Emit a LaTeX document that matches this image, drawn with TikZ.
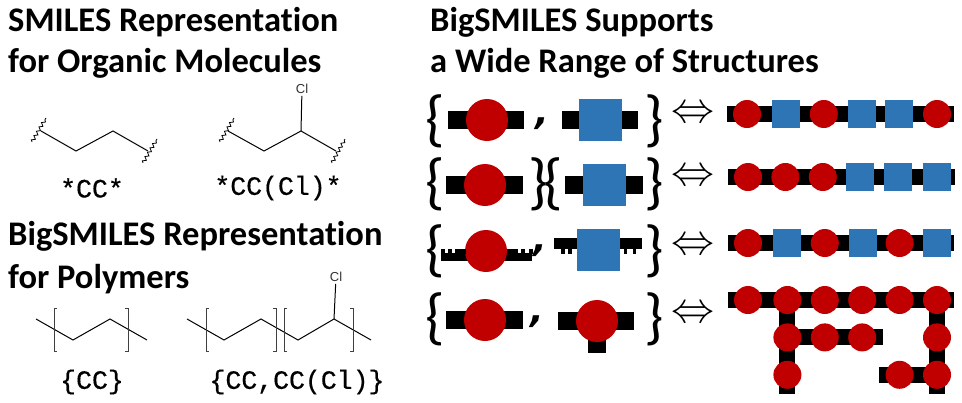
\documentclass[tikz,border=0pt]{standalone}
\usepackage{amsmath}
\usepackage{xcolor}
\usepackage{fontspec}
\setmainfont[RawFeature=-liga]{Carlito}
\newfontfamily\molfont{Liberation Sans}
\newfontfamily\sepfont{DejaVu Sans}
\newfontfamily\codefont[FakeBold=0.5]{Liberation Mono}
\usepackage{tikz}
\usetikzlibrary{arrows.meta,positioning,backgrounds,decorations.pathmorphing}
\definecolor{UnitRed}{RGB}{192,0,0}
\definecolor{UnitBlue}{RGB}{46,117,182}

\begin{document}
\begin{tikzpicture}[
    x=1pt, y=-1pt,
    headline/.style={anchor=base west, inner sep=0pt, font=\fontsize{34.5}{38}\selectfont\bfseries},
    smiles/.style={inner sep=0pt, font=\fontsize{26.5}{30}\selectfont\codefont},
    atomlabel/.style={inner sep=2pt, font=\fontsize{13}{15}\selectfont\molfont, text=black!80},
    bond/.style={line width=1pt, draw=black},
    wavybond/.style={line width=0.8pt, draw=black, decorate, decoration={snake, amplitude=1.6pt, segment length=5pt}},
    bracket/.style={line width=1pt, draw=black!75},
    bigcircle/.style={circle, fill=UnitRed, minimum size=42pt, inner sep=0pt},
    bigsquare/.style={rectangle, fill=UnitBlue, minimum width=43pt, minimum height=42pt, inner sep=0pt},
    beadcircle/.style={circle, fill=UnitRed, minimum size=28pt, inner sep=0pt},
    beadsquare/.style={rectangle, fill=UnitBlue, minimum size=28pt, inner sep=0pt},
    bigbar/.style={line width=18pt, draw=black},
    combbar/.style={line width=8pt, draw=black},
    keybar/.style={line width=11pt, draw=black},
    chainbar/.style={line width=16pt, draw=black},
    brace/.style={inner sep=0pt, font=\fontsize{62}{62}\selectfont},
    sep/.style={inner sep=0pt, font=\fontsize{36}{36}\selectfont\sepfont\itshape\bfseries},
    iff/.style={inner sep=0pt, scale=4.3}
  ]
    \useasboundingbox (0,0) rectangle (962,402);

    \node[headline] (title1) at (8,31) {SMILES Representation};
    \node[headline] (title2) at (8,72) {for Organic Molecules};
    \node[headline] (title3) at (8,245) {BigSMILES Representation};
    \node[headline] (title4) at (8,288) {for Polymers};
    \node[headline] (title5) at (430,31) {BigSMILES Supports};
    \node[headline] (title6) at (430,72) {a Wide Range of Structures};

    \coordinate (a1) at (41,131);
    \coordinate (a2) at (76,151);
    \coordinate (a3) at (113,131);
    \coordinate (a4) at (148,151);
    \coordinate (w1) at (32,142);
    \coordinate (w2) at (46,118);
    \coordinate (w3) at (143,163);
    \coordinate (w4) at (157,139);
    \draw[bond] (a1) -- (a2) -- (a3) -- (a4);
    \draw[wavybond] (w1) -- (w2);
    \draw[wavybond] (w3) -- (w4);
    \node[smiles] (code1) at (92,188) {*CC*};

    \coordinate (b1) at (228,131);
    \coordinate (b2) at (264,151);
    \coordinate (b3) at (301,131);
    \coordinate (b4) at (336,151);
    \coordinate (w5) at (220,142);
    \coordinate (w6) at (234,118);
    \coordinate (w7) at (332,163);
    \coordinate (w8) at (345,139);
    \node[atomlabel] (cl1) at (302,89) {Cl};
    \draw[bond] (b1) -- (b2) -- (b3) -- (b4);
    \draw[bond] (b3) -- (cl1);
    \draw[wavybond] (w5) -- (w6);
    \draw[wavybond] (w7) -- (w8);
    \node[smiles] (code2) at (278,188) {*CC(Cl)*};

    \coordinate (c1) at (36,319);
    \coordinate (c2) at (73,340);
    \coordinate (c3) at (110,319);
    \coordinate (c4) at (147,340);
    \draw[bond] (c1) -- (c2) -- (c3) -- (c4);
    \draw[bracket] (57,308) -- (54,308) -- (54,351) -- (57,351);
    \draw[bracket] (125,308) -- (128,308) -- (128,351) -- (125,351);
    \node[smiles] (code3) at (92,382) {\{CC\}};

    \coordinate (d1) at (187,319);
    \coordinate (d2) at (224,340);
    \coordinate (d3) at (261,319);
    \coordinate (d4) at (298,340);
    \coordinate (d5) at (334,319);
    \coordinate (d6) at (371,340);
    \node[atomlabel] (cl2) at (336,277) {Cl};
    \draw[bond] (d1) -- (d2) -- (d3) -- (d4) -- (d5) -- (d6);
    \draw[bond] (d5) -- (cl2);
    \draw[bracket] (209,308) -- (206,308) -- (206,351) -- (209,351);
    \draw[bracket] (273,308) -- (276,308) -- (276,351) -- (273,351);
    \draw[bracket] (287,308) -- (284,308) -- (284,351) -- (287,351);
    \draw[bracket] (350,308) -- (353,308) -- (353,351) -- (350,351);
    \node[smiles] (code4) at (297,382) {\{CC,CC(Cl)\}};

    \node[brace] (lb1) at (435,121) {\{};
    \node[bigcircle] (m1a) at (487,120) {};
    \coordinate[left=18pt of m1a] (m1al);
    \coordinate[right=16pt of m1a] (m1ar);
    \node[sep] (cm1) at (542,124) {,};
    \node[bigsquare] (m1b) at (600.5,120) {};
    \coordinate[left=17pt of m1b] (m1bl);
    \coordinate[right=16pt of m1b] (m1br);
    \node[brace] (rb1) at (654,121) {\}};
    \node[iff] (eq1) at (693,115) {$\Leftrightarrow$};

    \node[brace] (lb2) at (435,184) {\{};
    \node[bigcircle] (m2a) at (485,185) {};
    \coordinate[left=18pt of m2a] (m2al);
    \coordinate[right=17pt of m2a] (m2ar);
    \node[brace] (mb2) at (545.5,184) {\}\kern-5pt\{};
    \node[bigsquare] (m2b) at (604,185) {};
    \coordinate[left=17pt of m2b] (m2bl);
    \coordinate[right=17pt of m2b] (m2br);
    \node[brace] (rb2) at (654,184) {\}};
    \node[iff] (eq2) at (693,178) {$\Leftrightarrow$};

    \node[brace] (lb3) at (435,251) {\{};
    \node[bigcircle] (m3a) at (486,251) {};
    \coordinate[left=24pt of m3a] (m3al);
    \coordinate[right=25pt of m3a] (m3ar);
    \node[sep] (cm3) at (540,251) {,};
    \node[bigsquare] (m3b) at (598,250) {};
    \coordinate[left=22pt of m3b] (m3bl);
    \coordinate[right=22pt of m3b] (m3br);
    \node[brace] (rb3) at (654,251) {\}};
    \node[iff] (eq3) at (693,247) {$\Leftrightarrow$};

    \node[brace] (lb4) at (435,319) {\{};
    \node[bigcircle] (m4a) at (485,320) {};
    \coordinate[left=18pt of m4a] (m4al);
    \coordinate[right=17pt of m4a] (m4ar);
    \node[sep] (cm4) at (537,322) {,};
    \node[bigcircle] (m4b) at (597,321) {};
    \coordinate[left=18pt of m4b] (m4bl);
    \coordinate[right=16pt of m4b] (m4br);
    \coordinate[below=11pt of m4b] (m4bs);
    \node[brace] (rb4) at (654,319) {\}};
    \node[iff] (eq4) at (693,315) {$\Leftrightarrow$};

    \node[beadcircle] (r1a) at (747,114) {};
    \node[beadsquare, right=11pt of r1a] (r1b) {};
    \node[beadcircle, right=9pt of r1b] (r1c) {};
    \node[beadsquare, right=10pt of r1c] (r1d) {};
    \node[beadsquare, right=8pt of r1d] (r1e) {};
    \node[beadcircle, right=10pt of r1e] (r1f) {};
    \coordinate[left=6pt of r1a] (r1s);
    \coordinate[right=3pt of r1f] (r1t);

    \node[beadcircle] (r2a) at (748,177) {};
    \node[beadcircle, right=9pt of r2a] (r2b) {};
    \node[beadcircle, right=9pt of r2b] (r2c) {};
    \node[beadsquare, right=9pt of r2c] (r2d) {};
    \node[beadsquare, right=9pt of r2d] (r2e) {};
    \node[beadsquare, right=11pt of r2e] (r2f) {};
    \coordinate[left=6pt of r2a] (r2s);
    \coordinate[right=4pt of r2f] (r2t);

    \node[beadcircle] (r3a) at (748,243) {};
    \node[beadsquare, right=11pt of r3a] (r3b) {};
    \node[beadcircle, right=9pt of r3b] (r3c) {};
    \node[beadsquare, right=10pt of r3c] (r3d) {};
    \node[beadcircle, right=8pt of r3d] (r3e) {};
    \node[beadsquare, right=9pt of r3e] (r3f) {};
    \coordinate[left=6pt of r3a] (r3s);
    \coordinate[right=3pt of r3f] (r3t);

    \node[beadcircle] (r4a) at (748,300) {};
    \node[beadcircle, right=11pt of r4a] (r4b) {};
    \node[beadcircle, right=9pt of r4b] (r4c) {};
    \node[beadcircle, right=9pt of r4c] (r4d) {};
    \node[beadcircle, right=9pt of r4d] (r4e) {};
    \node[beadcircle, right=9pt of r4e] (r4f) {};
    \node[beadcircle, below=9pt of r4b] (r4g) {};
    \node[beadcircle, right=9pt of r4g] (r4h) {};
    \node[beadcircle, right=9pt of r4h] (r4i) {};
    \node[beadcircle, below=9pt of r4g] (r4j) {};
    \node[beadcircle, below=9pt of r4f] (r4k) {};
    \node[beadcircle, below=9pt of r4k] (r4l) {};
    \node[beadcircle, left=9pt of r4l] (r4m) {};
    \coordinate[left=6pt of r4a] (r4s);
    \coordinate[right=3pt of r4f] (r4t);
    \coordinate[right=7pt of r4i] (r4u);
    \coordinate[below=5pt of r4j] (r4v);
    \coordinate[below=5pt of r4l] (r4w);
    \coordinate[left=6pt of r4m] (r4x);

    \begin{pgfonlayer}{background}
      \draw[bigbar] (m1al) -- (m1a.center) -- (m1ar);
      \draw[bigbar] (m1bl) -- (m1b.center) -- (m1br);
      \draw[bigbar] (m2al) -- (m2a.center) -- (m2ar);
      \draw[bigbar] (m2bl) -- (m2b.center) -- (m2br);
      \draw[bigbar] (m4al) -- (m4a.center) -- (m4ar);
      \draw[bigbar] (m4bl) -- (m4b.center) -- (m4br);
      \draw[bigbar] (m4b.center) -- (m4bs);
      \draw[combbar] ([yshift=-6pt]m3al) -- ([yshift=-6pt]m3ar);
      \draw[keybar] ([yshift=6.5pt]m3bl) -- ([yshift=6.5pt]m3br);
      \draw[chainbar] (r1s) -- (r1t);
      \draw[chainbar] (r2s) -- (r2t);
      \draw[chainbar] (r3s) -- (r3t);
      \draw[chainbar] (r4s) -- (r4t);
      \draw[chainbar] (r4b.center) -- (r4v);
      \draw[chainbar] (r4g.center) -- (r4u);
      \draw[chainbar] (r4f.center) -- (r4w);
      \draw[chainbar] (r4l.center) -- (r4x);
    \end{pgfonlayer}

    \fill[black] (441,249) rectangle (445,253.5);
    \fill[black] (448,249) rectangle (452,253.5);
    \fill[black] (455,249) rectangle (466,253.5);
    \fill[black] (507,249) rectangle (518,253.5);
    \fill[black] (521,249) rectangle (525,253.5);
    \fill[black] (529,249) rectangle (533,253.5);
    \fill[black] (561,248.5) rectangle (565,254);
    \fill[black] (568,248.5) rectangle (572,254);
    \fill[black] (624,248.5) rectangle (627,254);
    \fill[black] (633,248.5) rectangle (636,254);
  \end{tikzpicture}
\end{document}
